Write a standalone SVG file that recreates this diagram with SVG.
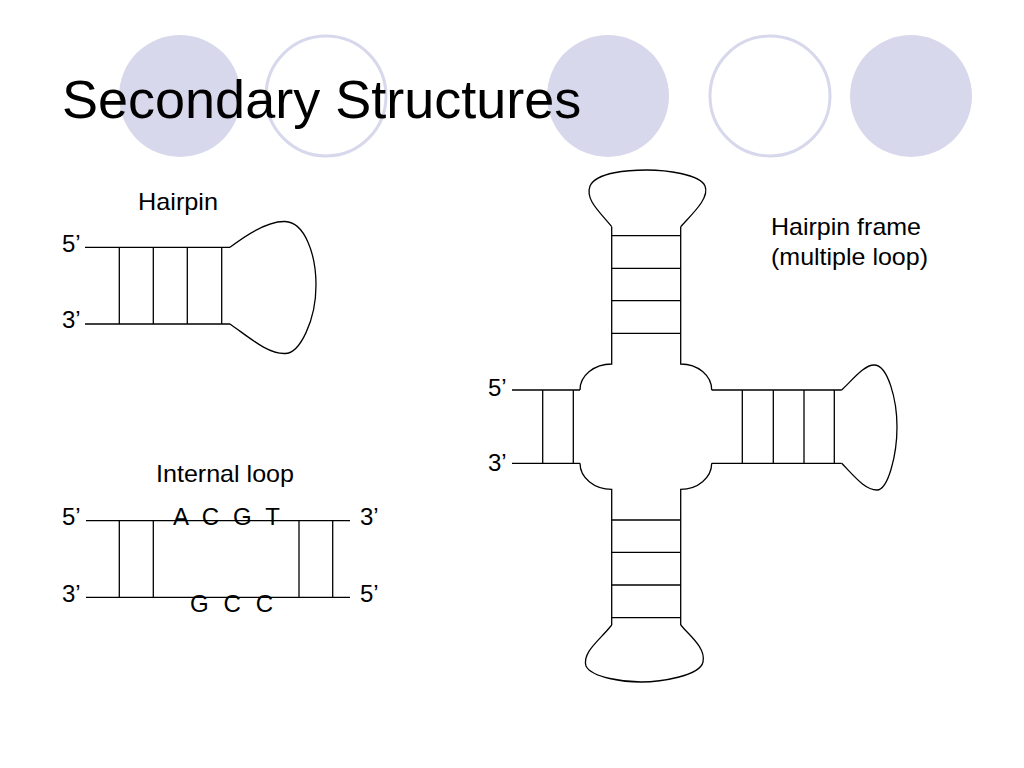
<svg xmlns="http://www.w3.org/2000/svg" width="1024" height="768" viewBox="0 0 1024 768">
<style>
  .ln { fill: none; stroke: #000; stroke-width: 1.3; }
  .lbl { font-family: "Liberation Sans", Arial, sans-serif; font-size: 24px; fill: #000; }
  .title { font-family: "Liberation Sans", Arial, sans-serif; font-size: 54px; fill: #000; }
  .cf { fill: #D8D8EC; }
  .co { fill: #fff; stroke: #D8D8EC; stroke-width: 3; }
</style>
<rect width="1024" height="768" fill="#fff"/>
<g id="decor">
  <circle class="cf" cx="180" cy="96" r="61"/>
  <circle class="co" cx="326" cy="96" r="60"/>
  <circle class="cf" cx="608" cy="96" r="61"/>
  <circle class="co" cx="770" cy="96" r="60"/>
  <circle class="cf" cx="911" cy="96" r="61"/>
</g>
<text id="title" class="title" x="62" y="118">Secondary Structures</text>

<g id="hairpin">
  <text class="lbl" x="138" y="210" textLength="80" lengthAdjust="spacingAndGlyphs">Hairpin</text>
  <text class="lbl" x="62" y="252">5’</text>
  <text class="lbl" x="62" y="328">3’</text>
  <line class="ln" x1="85" y1="247.3" x2="230" y2="247.3"/>
  <line class="ln" x1="85" y1="324" x2="230" y2="324"/>
  <line class="ln" x1="119.3" y1="247.3" x2="119.3" y2="324"/>
  <line class="ln" x1="153.3" y1="247.3" x2="153.3" y2="324"/>
  <line class="ln" x1="187.3" y1="247.3" x2="187.3" y2="324"/>
  <line class="ln" x1="221.7" y1="247.3" x2="221.7" y2="324"/>
  <path class="ln" d="M230,247.3 C250,232 270,221 285,221.5 C305,222 316,255 316,285 C316,320 300,353.5 285,353.5 C268,354 250,338 230,324"/>
</g>

<g id="internal-loop">
  <text class="lbl" x="156" y="482" textLength="138" lengthAdjust="spacingAndGlyphs">Internal loop</text>
  <text class="lbl" x="62" y="525">5’</text>
  <text class="lbl" x="62" y="602">3’</text>
  <text class="lbl" x="360" y="525">3’</text>
  <text class="lbl" x="360" y="602">5’</text>
  <line class="ln" x1="86" y1="520.7" x2="350" y2="520.7"/>
  <line class="ln" x1="86" y1="597.3" x2="350" y2="597.3"/>
  <line class="ln" x1="119.3" y1="520.7" x2="119.3" y2="597.3"/>
  <line class="ln" x1="153.3" y1="520.7" x2="153.3" y2="597.3"/>
  <line class="ln" x1="299" y1="520.7" x2="299" y2="597.3"/>
  <line class="ln" x1="332.7" y1="520.7" x2="332.7" y2="597.3"/>
  <text class="lbl" x="173" y="525" xml:space="preserve" textLength="107" lengthAdjust="spacing">A  C  G  T</text>
  <text class="lbl" x="190" y="612" xml:space="preserve" textLength="83" lengthAdjust="spacing">G  C  C</text>
</g>

<g id="hairpin-frame">
  <text class="lbl" x="771" y="235" textLength="150" lengthAdjust="spacingAndGlyphs">Hairpin frame</text>
  <text class="lbl" x="771" y="265" textLength="157" lengthAdjust="spacingAndGlyphs">(multiple loop)</text>
  <text class="lbl" x="488" y="396">5’</text>
  <text class="lbl" x="488" y="471">3’</text>
  <!-- left arm -->
  <line class="ln" x1="512" y1="390" x2="580" y2="390"/>
  <line class="ln" x1="512" y1="463.3" x2="580" y2="463.3"/>
  <line class="ln" x1="542.7" y1="390" x2="542.7" y2="463.3"/>
  <line class="ln" x1="573.3" y1="390" x2="573.3" y2="463.3"/>
  <!-- junction corners and stems -->
  <path class="ln" d="M580,390 A31.7,26 0 0 1 611.7,364 V226.7"/>
  <path class="ln" d="M680.7,226.7 V364 A31,26 0 0 1 711.7,390"/>
  <path class="ln" d="M580,463.3 A31.7,26 0 0 0 611.7,489.3 V625"/>
  <path class="ln" d="M680.7,625 V489.3 A31,26 0 0 0 711.7,463.3"/>
  <!-- top stem rungs and loop -->
  <line class="ln" x1="611.7" y1="235.7" x2="680.7" y2="235.7"/>
  <line class="ln" x1="611.7" y1="268.3" x2="680.7" y2="268.3"/>
  <line class="ln" x1="611.7" y1="300.7" x2="680.7" y2="300.7"/>
  <line class="ln" x1="611.7" y1="333.3" x2="680.7" y2="333.3"/>
  <path class="ln" d="M611.7,226.7 C600,212 585,200 590,186 C596,172 630,170 646.7,170 C665,170 700,174 705,186 C710,198 692,214 680.7,226.7"/>
  <!-- right arm -->
  <line class="ln" x1="711.7" y1="390" x2="841.7" y2="390"/>
  <line class="ln" x1="711.7" y1="463.3" x2="841.7" y2="463.3"/>
  <line class="ln" x1="742.3" y1="390" x2="742.3" y2="463.3"/>
  <line class="ln" x1="773.3" y1="390" x2="773.3" y2="463.3"/>
  <line class="ln" x1="804" y1="390" x2="804" y2="463.3"/>
  <line class="ln" x1="834.3" y1="390" x2="834.3" y2="463.3"/>
  <path class="ln" d="M841.7,390 C855,377 865,365 874,365 C888,365 897,400 897,427 C897,455 888,490 877,490 C865,490 855,477 841.7,463.3"/>
  <!-- bottom stem rungs and loop -->
  <line class="ln" x1="611.7" y1="520" x2="680.7" y2="520"/>
  <line class="ln" x1="611.7" y1="552.3" x2="680.7" y2="552.3"/>
  <line class="ln" x1="611.7" y1="585" x2="680.7" y2="585"/>
  <line class="ln" x1="611.7" y1="617.7" x2="680.7" y2="617.7"/>
  <path class="ln" d="M611.7,625 C600,640 582,652 586,666 C592,678 625,682 641,682 C660,682 700,676 703,662 C706,648 690,636 680.7,625"/>
</g>
</svg>
